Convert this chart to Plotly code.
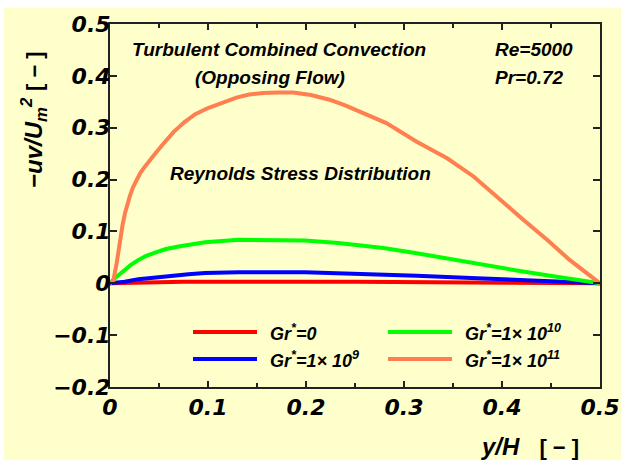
import plotly.graph_objects as go

# Reynolds stress profiles across the half channel, y/H from wall (0) to centre (0.5)
series_names = ["Gr<sup>*</sup>=0", "Gr<sup>*</sup>=1× 10<sup>9</sup>",
                "Gr<sup>*</sup>=1× 10<sup>10</sup>", "Gr<sup>*</sup>=1× 10<sup>11</sup>"]
series_colors = ["#FF0000", "#0000FF", "#00FF00", "#FF7F50"]

x_gr0 = [0, 0.03, 0.07, 0.075, 0.25, 0.32, 0.45, 0.5]
y_gr0 = [0, 0.001, 0.0015, 0.003, 0.003, 0.0022, 0.0015, 0]

x_gr9 = [0, 0.015, 0.029, 0.045, 0.063, 0.080, 0.097, 0.131, 0.199, 0.233, 0.313, 0.381,
         0.449, 0.5]
y_gr9 = [0, 0.003, 0.008, 0.0115, 0.0145, 0.0175, 0.0196, 0.0215, 0.0215, 0.0196, 0.0145,
         0.0093, 0.003, 0]

x_gr10 = [0, 0.005, 0.0153, 0.021, 0.029, 0.037, 0.046, 0.057, 0.070, 0.083, 0.097, 0.131,
          0.165, 0.199, 0.233, 0.279, 0.313, 0.347, 0.381, 0.415, 0.449, 0.476, 0.5]
y_gr10 = [0, 0.010, 0.026, 0.035, 0.045, 0.053, 0.059, 0.066, 0.071, 0.0755, 0.079, 0.084,
          0.084, 0.0825, 0.0775, 0.068, 0.058, 0.0466, 0.0356, 0.0247, 0.0145, 0.0067, 0]

x_gr11 = [0, 0.0034, 0.0068, 0.0102, 0.0128, 0.0153, 0.0178, 0.0204, 0.0235, 0.027,
          0.031, 0.036, 0.041, 0.046, 0.054, 0.065, 0.076, 0.087, 0.100, 0.112, 0.129,
          0.142, 0.156, 0.172, 0.187, 0.205, 0.224, 0.240, 0.255, 0.282, 0.313, 0.344,
          0.371, 0.398, 0.422, 0.446, 0.469, 0.5]
y_gr11 = [0, 0.005, 0.039, 0.084, 0.112, 0.135, 0.153, 0.169, 0.185, 0.199,
          0.213, 0.226, 0.239, 0.250, 0.268, 0.292, 0.311, 0.326, 0.338, 0.347, 0.358,
          0.364, 0.367, 0.368, 0.368, 0.363, 0.354, 0.343, 0.331, 0.309, 0.273, 0.241,
          0.206, 0.161, 0.122, 0.084, 0.045, 0]

x_ticks = [0, 0.1, 0.2, 0.3, 0.4, 0.5]
y_ticks = [-0.2, -0.1, 0, 0.1, 0.2, 0.3, 0.4, 0.5]

xs = [x_gr0, x_gr9, x_gr10, x_gr11]
ys = [y_gr0, y_gr9, y_gr10, y_gr11]

W, H = 621, 460
ML, MR, MT, MB = 110, 21, 24, 73
PW, PH = W - ML - MR, H - MT - MB
BG = "#FFFFCC"
FONT = "Liberation Sans, Arial, sans-serif"
TICKFONT = "DejaVu Sans, sans-serif"


def px(x):
    return (x - ML) / PW


def py(y):
    return (H - MB - y) / PH


fig = go.Figure()
for xv, yv, name, col in zip(xs, ys, series_names, series_colors):
    fig.add_trace(go.Scatter(x=xv, y=yv, mode="lines", name=name,
                             line=dict(color=col, width=4), showlegend=False))

tickfont = dict(family=TICKFONT, size=22, color="black", weight="bold", style="italic")

fig.update_xaxes(range=[0, 0.5], tickvals=x_ticks, ticktext=[f"{v:g}" for v in x_ticks],
                 ticks="inside", ticklen=6, tickwidth=1.5, tickcolor="#222",
                 minor=dict(dtick=0.05, tick0=0, ticks="inside", ticklen=4, tickwidth=1.5, tickcolor="#222"),
                 showline=True, linecolor="#222", linewidth=2, mirror="ticks",
                 showgrid=False, zeroline=False, tickfont=tickfont, automargin=False)
fig.update_yaxes(range=[-0.2, 0.5], tickvals=y_ticks,
                 ticktext=[f"{v:g}".replace("-", "−") for v in y_ticks],
                 ticks="inside", ticklen=7, tickwidth=1.5, tickcolor="#222",
                 showline=True, linecolor="#222", linewidth=2, mirror="ticks",
                 showgrid=False, zeroline=False, tickfont=tickfont, automargin=False,
                 ticklabelstandoff=-7)

shapes = [dict(type="rect", xref="paper", yref="paper", x0=px(4), x1=px(W), y0=py(H), y1=py(8),
               fillcolor=BG, line=dict(width=0), layer="below")]

annfont = dict(family=FONT, size=19, color="black", weight="bold", style="italic")
anns = []


def note(text, x, y, xanchor="left", font=annfont, angle=0):
    anns.append(dict(text=text, x=px(x), y=py(y), xref="paper", yref="paper",
                     xanchor=xanchor, yanchor="middle", showarrow=False, font=font,
                     textangle=angle))


note("Turbulent Combined Convection", 130, 50)
note("(Opposing Flow)", 270, 77, xanchor="center")
note("Re=5000", 493, 50)
note("Pr=0.72", 493, 77)
note("Reynolds Stress Distribution", 168, 174)

# legend keys drawn as short line segments with labels
legfont = dict(family=FONT, size=18, color="black", weight="bold", style="italic")
key_pos = [(193, 332), (193, 359), (388, 332), (388, 359)]
for (kx, ky), name, col in zip(key_pos, series_names, series_colors):
    shapes.append(dict(type="line", xref="paper", yref="paper", x0=px(kx), x1=px(kx + 64),
                       y0=py(ky), y1=py(ky), line=dict(color=col, width=4)))
    note(name, kx + 75, ky, font=legfont)

titlefont = dict(family=FONT, size=24, color="black", weight="bold", style="normal")
unit = "<span style='font-size:22px'>[&nbsp;−&nbsp;]</span>"
note("<i>−uv/U<sub>m</sub><sup>2</sup></i> " + unit,
     34, 120, xanchor="center", font=titlefont, angle=-90)
note("<i>y/H</i>&nbsp;&nbsp; " + unit, 530, 447,
     xanchor="center", font=titlefont)

fig.update_layout(width=W, height=H, margin=dict(l=ML, r=MR, t=MT, b=MB),
                  paper_bgcolor="white", plot_bgcolor=BG,
                  shapes=shapes, annotations=anns, showlegend=False)

fig.write_html("out.html")
